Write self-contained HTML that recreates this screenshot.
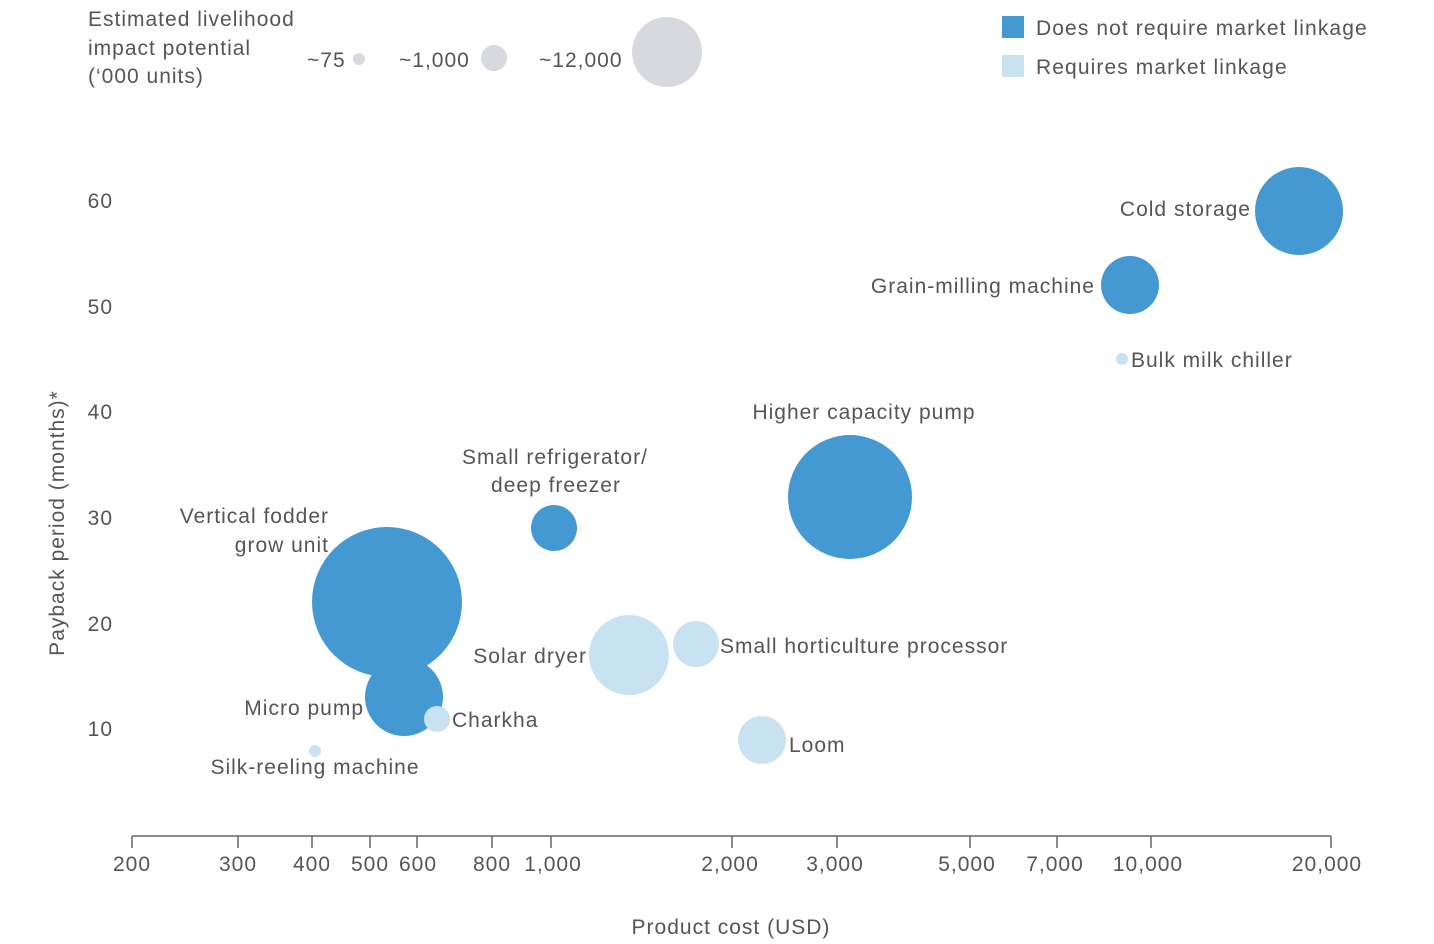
<!DOCTYPE html>
<html><head><meta charset="utf-8"><style>
html,body{margin:0;padding:0;background:#fff;}
svg{display:block;font-family:"Liberation Sans",sans-serif;}
text{fill:#555;font-size:21px;letter-spacing:1px;}
</style></head><body>
<svg width="1434" height="944" viewBox="0 0 1434 944">
<text x="88" y="26">Estimated livelihood</text>
<text x="88" y="55">impact potential</text>
<text x="88" y="83">(‘000 units)</text>
<text x="307" y="67">~75</text>
<circle cx="359" cy="59" r="6" fill="#d8d9de"/>
<text x="399" y="67">~1,000</text>
<circle cx="494" cy="58" r="13" fill="#d8d9de"/>
<text x="539" y="67">~12,000</text>
<circle cx="667" cy="52" r="35" fill="#d8d9de"/>
<rect x="1002" y="16" width="22" height="22" fill="#4499d3"/>
<text x="1036" y="35" style="letter-spacing:1.1px">Does not require market linkage</text>
<rect x="1002" y="55" width="22" height="22" fill="#c9e2f1"/>
<text x="1036" y="74" style="letter-spacing:1.1px">Requires market linkage</text>
<g text-anchor="end">
<text x="113" y="208">60</text>
<text x="113" y="314">50</text>
<text x="113" y="419">40</text>
<text x="113" y="525">30</text>
<text x="113" y="631">20</text>
<text x="113" y="736">10</text>
</g>
<text transform="translate(64,523) rotate(-90)" text-anchor="middle" font-size="20">Payback period (months)*</text>
<line x1="132" y1="836" x2="1331" y2="836" stroke="#666" stroke-width="1.5"/>
<g stroke="#666" stroke-width="1.5">
<line x1="132" y1="836" x2="132" y2="848"/>
<line x1="238" y1="836" x2="238" y2="848"/>
<line x1="312" y1="836" x2="312" y2="848"/>
<line x1="370" y1="836" x2="370" y2="848"/>
<line x1="417" y1="836" x2="417" y2="848"/>
<line x1="492" y1="836" x2="492" y2="848"/>
<line x1="551" y1="836" x2="551" y2="848"/>
<line x1="732" y1="836" x2="732" y2="848"/>
<line x1="837" y1="836" x2="837" y2="848"/>
<line x1="970" y1="836" x2="970" y2="848"/>
<line x1="1057" y1="836" x2="1057" y2="848"/>
<line x1="1151" y1="836" x2="1151" y2="848"/>
<line x1="1331" y1="836" x2="1331" y2="848"/>
</g>
<g text-anchor="middle">
<text x="132" y="871">200</text>
<text x="238" y="871">300</text>
<text x="312" y="871">400</text>
<text x="370" y="871">500</text>
<text x="418" y="871">600</text>
<text x="492" y="871">800</text>
<text x="553" y="871">1,000</text>
<text x="730" y="871">2,000</text>
<text x="835" y="871">3,000</text>
<text x="967" y="871">5,000</text>
<text x="1055" y="871">7,000</text>
<text x="1148" y="871">10,000</text>
<text x="1327" y="871">20,000</text>
<text x="731" y="934">Product cost (USD)</text>
</g>
<circle cx="1299" cy="211" r="44" fill="#4499d3"/>
<circle cx="1130" cy="285" r="29" fill="#4499d3"/>
<circle cx="1122" cy="359" r="6" fill="#c9e2f1"/>
<circle cx="850" cy="497" r="62" fill="#4499d3"/>
<circle cx="554" cy="528" r="23" fill="#4499d3"/>
<circle cx="404" cy="697" r="39" fill="#4499d3"/>
<circle cx="387" cy="602" r="75" fill="#4499d3"/>
<circle cx="437" cy="719" r="13" fill="#c9e2f1"/>
<circle cx="315" cy="751" r="6" fill="#c9e2f1"/>
<circle cx="629" cy="655" r="40" fill="#c9e2f1"/>
<circle cx="696" cy="644" r="23" fill="#c9e2f1"/>
<circle cx="762" cy="740" r="24" fill="#c9e2f1"/>
<text x="1251" y="216" text-anchor="end">Cold storage</text>
<text x="1095" y="293" text-anchor="end">Grain-milling machine</text>
<text x="1131" y="367">Bulk milk chiller</text>
<text x="864" y="419" text-anchor="middle">Higher capacity pump</text>
<text x="555" y="464" text-anchor="middle">Small refrigerator/</text>
<text x="556" y="492" text-anchor="middle">deep freezer</text>
<text x="329" y="523" text-anchor="end">Vertical fodder</text>
<text x="329" y="552" text-anchor="end">grow unit</text>
<text x="587" y="663" text-anchor="end">Solar dryer</text>
<text x="720" y="653">Small horticulture processor</text>
<text x="364" y="715" text-anchor="end">Micro pump</text>
<text x="452" y="727">Charkha</text>
<text x="315" y="774" text-anchor="middle">Silk-reeling machine</text>
<text x="789" y="752">Loom</text>
</svg>
</body></html>
